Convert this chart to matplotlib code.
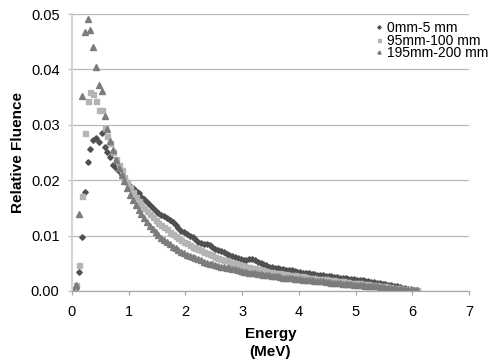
import numpy as np
import matplotlib
matplotlib.use("Agg")
import matplotlib.pyplot as plt

# energy bins (MeV), 0.05 MeV wide, bin centres
energy_mev = np.round(np.arange(0.025, 6.1, 0.05), 3)

# relative fluence, in units of 1e-4
fluence_0_5 = [
    1, 5, 34, 97, 178, 232, 256, 272, 276, 268,
    285, 259, 251, 242, 228, 222, 217, 209, 203, 197,
    190, 185, 180, 176, 170, 166, 161, 155, 149, 144,
    140, 137, 135, 131, 128, 124, 119, 114, 109, 106,
    103, 100, 97, 93, 89, 87, 85, 84, 83, 79,
    75, 74, 72, 71, 67, 65, 63, 61, 59, 57,
    56, 55, 57, 58, 56, 53, 50, 48, 46, 44,
    43, 42, 41, 40, 39, 38, 37, 37, 36, 35,
    34, 33, 33, 32, 31, 30, 29, 29, 28, 27,
    27, 26, 25, 25, 24, 23, 23, 22, 22, 21,
    20, 20, 19, 18, 17, 16, 16, 15, 14, 13,
    12, 11, 10, 9, 8, 7, 6, 5, 4, 3,
    2, 1]
fluence_95_100 = [
    2, 10, 47, 172, 286, 343, 360, 355, 343, 327,
    327, 294, 279, 267, 251, 238, 227, 218, 206, 197,
    187, 178, 170, 163, 156, 150, 144, 138, 133, 128,
    123, 119, 115, 111, 107, 103, 99, 96, 92, 89,
    86, 83, 80, 78, 75, 73, 70, 68, 66, 64,
    62, 60, 58, 56, 55, 53, 51, 50, 48, 47,
    45, 44, 43, 42, 41, 39, 38, 37, 36, 35,
    34, 33, 33, 32, 31, 30, 29, 29, 28, 27,
    26, 26, 25, 24, 24, 23, 22, 22, 21, 21,
    20, 19, 19, 18, 18, 17, 16, 16, 15, 15,
    14, 14, 13, 12, 12, 11, 11, 10, 9, 9,
    8, 7, 7, 6, 5, 5, 4, 3, 3, 2,
    1, 1]
fluence_195_200 = [
    2, 10, 139, 352, 468, 491, 471, 440, 404, 372,
    361, 315, 292, 270, 254, 237, 222, 210, 198, 186,
    174, 164, 155, 146, 138, 131, 124, 118, 112, 106,
    101, 96, 92, 88, 84, 80, 77, 74, 71, 68,
    65, 63, 61, 59, 57, 55, 53, 51, 49, 48,
    47, 45, 44, 43, 42, 41, 40, 39, 37, 36,
    35, 34, 33, 32, 32, 31, 30, 29, 28, 28,
    27, 26, 26, 25, 24, 24, 23, 23, 22, 21,
    21, 20, 20, 19, 19, 18, 18, 17, 17, 16,
    16, 15, 15, 14, 14, 13, 13, 12, 12, 11,
    11, 10, 10, 9, 9, 8, 8, 8, 7, 7,
    6, 6, 5, 5, 4, 4, 3, 3, 2, 2,
    1, 1]

labels = ["0mm-5 mm", "95mm-100 mm", "195mm-200 mm"]

plt.rcParams['font.family'] = ['Liberation Sans', 'DejaVu Sans']

fig = plt.figure(figsize=(5.0, 3.6), dpi=100)
ax = fig.add_axes([0.144, 0.192, 0.794, 0.769])

ax.plot(energy_mev, np.array(fluence_0_5) * 1e-4, ls='none', marker='D',
        ms=2.8, color='#505050', mec='#505050', label=labels[0])
ax.plot(energy_mev, np.array(fluence_95_100) * 1e-4, ls='none', marker='s',
        ms=3.6, color='#b4b4b4', mec='#b4b4b4', label=labels[1])
ax.plot(energy_mev, np.array(fluence_195_200) * 1e-4, ls='none', marker='^',
        ms=3.8, color='#7c7c7c', mec='#7c7c7c', label=labels[2])

ax.set_xlim(0, 7)
ax.set_ylim(0, 0.05)
ax.set_xticks(range(0, 8))
ax.set_yticks(np.arange(0, 0.051, 0.01))
ax.yaxis.set_major_formatter(matplotlib.ticker.FormatStrFormatter('%.2f'))

ax.grid(axis='y', color='#b8b8b8', lw=0.9)
ax.set_axisbelow(True)
for s in ['top', 'right']:
    ax.spines[s].set_visible(False)
ax.spines['left'].set_color('#d4d4d4')
ax.spines['left'].set_linewidth(1.5)
ax.spines['bottom'].set_color('#a8a8a8')
ax.spines['bottom'].set_linewidth(0.9)

ax.tick_params(axis='x', direction='out', length=3, width=0.9, color='#a8a8a8',
               pad=7, labelsize=10.5)
ax.tick_params(axis='y', direction='out', length=3, width=0.9, color='#b8b8b8',
               pad=6, labelsize=10.5)

ax.set_xlabel("Energy\n(MeV)", fontsize=11, fontweight='bold', labelpad=6,
              linespacing=1.35)
ax.set_ylabel("Relative Fluence", fontsize=11, fontweight='bold', labelpad=4)

ax.legend(loc='upper left', bbox_to_anchor=(0.75, 0.995), frameon=False,
          fontsize=10, handlelength=0.6, handletextpad=0.25, labelspacing=-0.1,
          markerscale=0.6, borderaxespad=0)

fig.savefig("out.png", dpi=100)
